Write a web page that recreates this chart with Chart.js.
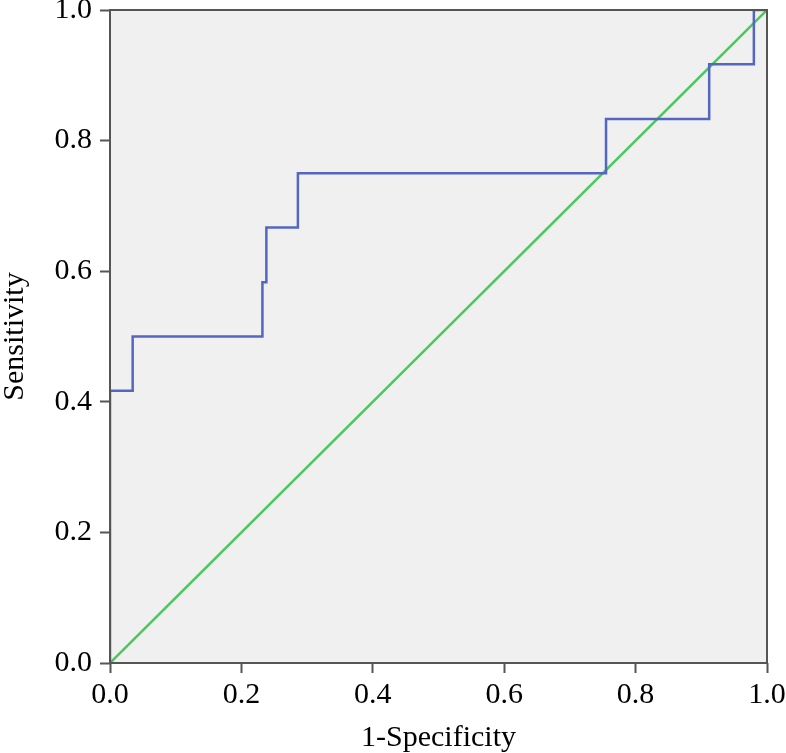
<!DOCTYPE html>
<html>
<head>
<meta charset="utf-8">
<script src="https://cdn.jsdelivr.net/npm/chart.js@4.4.1/dist/chart.umd.min.js"></script>
<style>
  html, body { margin: 0; padding: 0; background: #fff; }
  #wrap { width: 786px; height: 753px; }
</style>
</head>
<body>
<div id="wrap"><canvas id="roc" width="786" height="753"></canvas></div>
<script>
  // ROC curve (1-specificity, sensitivity)
  const fpr = [0, 0, 0.0345, 0.232, 0.238, 0.286, 0.755, 0.912, 0.98, 1];
  const tpr = [0, 0.417, 0.5, 0.583, 0.667, 0.75, 0.833, 0.917, 1, 1];
  // reference diagonal
  const refX = [0, 1];
  const refY = [0, 1];
  const tickLabels = ['0.0', '0.2', '0.4', '0.6', '0.8', '1.0'];

  const serif = "'Liberation Serif', 'Times New Roman', serif";

  // grey plot area + frame
  const frame = {
    id: 'frame',
    beforeDatasetsDraw(chart) {
      const a = chart.chartArea, ctx = chart.ctx;
      ctx.save();
      ctx.fillStyle = '#f0f0f0';
      ctx.fillRect(a.left, a.top, a.right - a.left, a.bottom - a.top);
      ctx.restore();
    },
    afterDatasetsDraw(chart) {
      const a = chart.chartArea, ctx = chart.ctx;
      ctx.save();
      ctx.strokeStyle = '#555';
      ctx.lineWidth = 2;
      ctx.strokeRect(a.left, a.top, a.right - a.left, a.bottom - a.top);
      ctx.restore();
    }
  };

  new Chart(document.getElementById('roc'), {
    type: 'scatter',
    data: {
      datasets: [{
        data: fpr.map((x, i) => ({ x: x, y: tpr[i] })),
        showLine: true,
        stepped: 'before',
        borderColor: '#5466c2',
        borderWidth: 2.5,
        pointRadius: 0,
        fill: false
      }, {
        data: refX.map((x, i) => ({ x: x, y: refY[i] })),
        showLine: true,
        borderColor: '#48c95a',
        borderWidth: 2.5,
        pointRadius: 0,
        fill: false
      }]
    },
    options: {
      responsive: false,
      animation: false,
      layout: { padding: { top: 10, right: 19, left: 0, bottom: 0 } },
      plugins: { legend: { display: false }, tooltip: { enabled: false } },
      scales: {
        x: {
          type: 'linear', min: 0, max: 1,
          afterFit: s => { s.height = 90; s.paddingLeft = 0; s.paddingRight = 0; },
          afterBuildTicks: s => { s.ticks = tickLabels.map(v => ({ value: +v })); },
          grid: { drawOnChartArea: false, tickLength: 10, tickColor: '#555', tickWidth: 2 },
          border: { display: false },
          ticks: {
            padding: 4, color: '#000',
            font: { family: serif, size: 30 },
            callback: v => v.toFixed(1)
          },
          title: { display: true, text: '1-Specificity', color: '#000', padding: 0,
                   font: { family: serif, size: 30, lineHeight: 1 } }
        },
        y: {
          type: 'linear', min: 0, max: 1,
          afterFit: s => { s.width = 110; s.paddingTop = 0; s.paddingBottom = 0; },
          afterBuildTicks: s => { s.ticks = tickLabels.map(v => ({ value: +v })); },
          grid: { drawOnChartArea: false, tickLength: 10, tickColor: '#555', tickWidth: 2 },
          border: { display: false },
          ticks: {
            padding: 8, color: '#000',
            font: { family: serif, size: 30 },
            callback: v => v.toFixed(1)
          },
          title: { display: true, text: 'Sensitivity', color: '#000', padding: 0,
                   font: { family: serif, size: 30, lineHeight: 1 } }
        }
      }
    },
    plugins: [frame]
  });
</script>
</body>
</html>
